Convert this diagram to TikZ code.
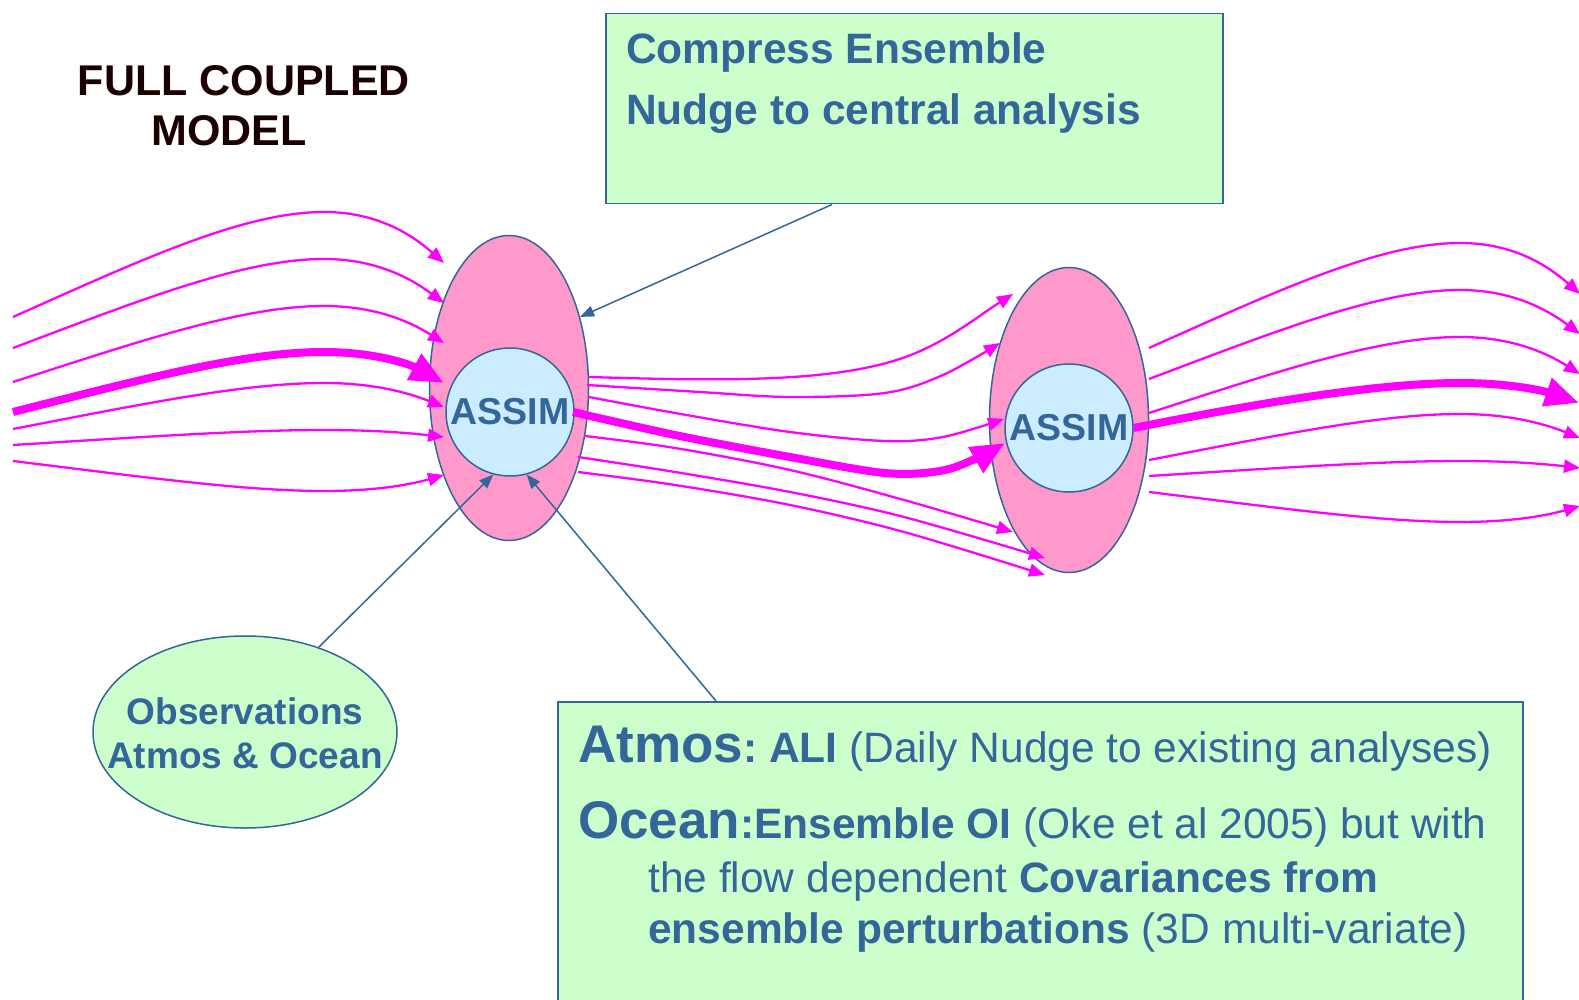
\documentclass[tikz,border=0pt]{standalone}
\usepackage{fontspec}
\setmainfont{Liberation Sans}
\usetikzlibrary{arrows.meta,shapes.geometric}
\definecolor{bl}{RGB}{51,102,153}
\definecolor{mag}{RGB}{255,0,255}
\definecolor{pinkf}{RGB}{255,153,204}
\definecolor{lblue}{RGB}{204,236,255}
\definecolor{lgreen}{RGB}{204,255,204}
\definecolor{ttl}{RGB}{26,0,0}
\tikzset{
  mline/.style={draw=mag, line width=2.3pt, -{Triangle[length=16pt,width=13pt]}},
  mthick/.style={draw=mag, line width=8pt, -{Triangle[length=34pt,width=28pt]}},
  bline/.style={draw=bl, line width=1.5pt, -{Triangle[length=14pt,width=11pt]}},
  bigell/.style={ellipse, draw=bl, line width=1.5pt, fill=pinkf, inner sep=0pt, minimum width=159pt, minimum height=305pt},
  assim/.style={circle, draw=bl, line width=1.5pt, fill=lblue, inner sep=0pt, minimum size=128pt, text=bl, font=\fontsize{37.5}{40}\selectfont\bfseries},
  obsell/.style={ellipse, draw=bl, line width=1.5pt, fill=lgreen, inner sep=0pt, minimum width=304pt, minimum height=192pt},
  obstext/.style={align=center, inner sep=0pt, text=bl, font=\fontsize{37}{44}\selectfont\bfseries},
  gbox/.style={rectangle, draw=bl, line width=1.5pt, fill=lgreen, inner sep=0pt, anchor=north west},
  ttltext/.style={anchor=base, inner sep=0pt, text=ttl, font=\fontsize{43}{50}\selectfont\bfseries},
  boxtext/.style={anchor=base west, inner sep=0pt, text=bl},
  fan/.pic={
    \draw[mline] (13,317) .. controls (143,259) and (244,212) .. (324,212) .. controls (374,212) and (409,232) .. (444,263);
    \draw[mline] (13,348) .. controls (143,299) and (244,259) .. (324,259) .. controls (374,259) and (409,277) .. (444,303);
    \draw[mline] (13,382) .. controls (143,340) and (244,306) .. (324,306) .. controls (374,306) and (409,321) .. (444,343);
    \draw[mline] (13,429) .. controls (143,404) and (244,383) .. (324,383) .. controls (374,383) and (409,393) .. (444,407);
    \draw[mline] (13,445) .. controls (143,437) and (244,430) .. (324,430) .. controls (374,430) and (409,433) .. (444,437);
    \draw[mline] (13,461) .. controls (143,477) and (244,491) .. (324,491) .. controls (374,491) and (409,485) .. (444,475);
  }
}
\begin{document}
\begin{tikzpicture}[x=1pt,y=-1pt]
\useasboundingbox[fill=white] (0,0) rectangle (1579,1000);

% title
\node[ttltext] (ttl1) at (244,96) {FULL COUPLED};
\node[ttltext] (ttl2) at (229,146) {MODEL};

% top box
\node[gbox, minimum width=617pt, minimum height=190pt] (topbox) at (605,13) {};
\node[boxtext, font=\fontsize{42.5}{48}\selectfont\bfseries] (tb1) at (626,64) {Compress Ensemble};
\node[boxtext, font=\fontsize{42.5}{48}\selectfont\bfseries] (tb2) at (626,125) {Nudge to central analysis};

% bottom box
\node[gbox, minimum width=965pt, minimum height=320pt] (botbox) at (557,701) {};
\node[boxtext, font=\fontsize{42.5}{48}\selectfont] (bb1) at (578,762)
  {{\fontsize{53}{60}\selectfont\bfseries Atmos}\textbf{:~ALI} (Daily Nudge to existing analyses)};
\node[boxtext, font=\fontsize{42.5}{48}\selectfont] (bb2) at (578,838)
  {{\fontsize{53}{60}\selectfont\bfseries Ocean}\textbf{:Ensemble OI} (Oke et al 2005) but with};
\node[boxtext, font=\fontsize{42.5}{48}\selectfont] (bb3) at (648,892)
  {the flow dependent \textbf{Covariances from}};
\node[boxtext, font=\fontsize{42.5}{48}\selectfont] (bb4) at (648,943)
  {\textbf{ensemble perturbations} (3D multi-variate)};

% observations
\node[obsell] (obs) at (245,732) {};
\node[obstext] (obst) at (245,733) {Observations\\Atmos \& Ocean};

% assimilation ellipses
\node[bigell] (lell) at (509,388) {};
\node[assim] (lcirc) at (510,412) {ASSIM};
\node[bigell] (rell) at (1069,420) {};
\node[assim] (rcirc) at (1069,428) {ASSIM};

% blue connectors
\coordinate (tbc) at ([xshift=227pt]topbox.south west);
\coordinate (bbc) at ([xshift=159pt]botbox.north west);
\draw[bline] (tbc) -- (lell.45);
\draw[bline] (obs.49) -- (lcirc.255);
\draw[bline] (bbc) -- (lcirc.285);

% ensemble trajectories, left and right fans
\pic at (0,0) {fan};
\pic at (1136,31) {fan};
\draw[mthick] (13,412) .. controls (143,379) and (244,352) .. (324,352) .. controls (374,352) and (409,364) .. (444,383);
\draw[mthick] (rcirc.east) .. controls (1263,402) and (1380,383) .. (1460,383) .. controls (1510,383) and (1544,391) .. (1579,403);

% middle trajectories
\draw[mline] (589,377) .. controls (720,381) and (820,382) .. (890,362) .. controls (940,348) and (975,318) .. (1013,294);
\draw[mline] plot[smooth, tension=0.55] coordinates {(587,385) (700,392) (790,397) (885,393) (943,375) (1000,343)};
\draw[mline] plot[smooth, tension=0.55] coordinates {(589,397) (675,413) (790,432) (885,441) (943,437) (1004,419)};
\draw[mthick] plot[smooth, tension=0.55] coordinates {(573,412) (675,435) (790,457) (885,473) (940,471) (975,459) (1005,443)};
\draw[mline] plot[smooth, tension=0.55] coordinates {(585,436) (675,448) (790,470) (904,500) (1013,532)};
\draw[mline] plot[smooth, tension=0.55] coordinates {(578,457) (675,472) (790,492) (904,517) (1045,558)};
\draw[mline] plot[smooth, tension=0.55] coordinates {(578,472) (675,485) (790,505) (904,532) (1045,575)};
\end{tikzpicture}
\end{document}
